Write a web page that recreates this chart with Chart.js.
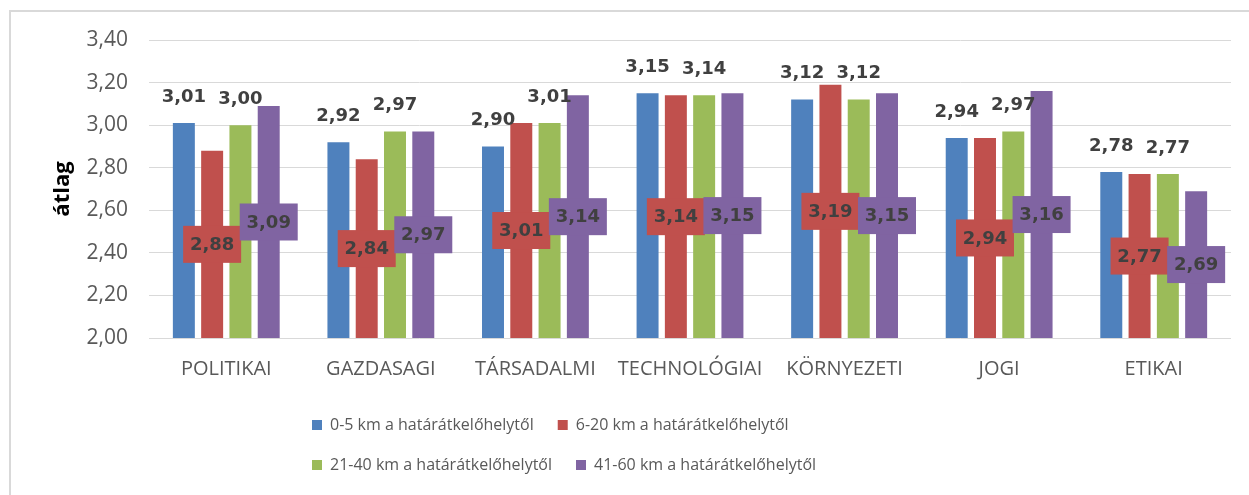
<!DOCTYPE html>
<html lang="hu">
<head>
    <meta charset="UTF-8">
    <title>átlag</title>
    <script src="https://cdn.jsdelivr.net/npm/chart.js@4.4.1/dist/chart.umd.min.js"></script>
</head>
<style>
    body {
        margin: 0;
        background: #fff;
        font-family: "Open Sans", sans-serif;
    }

    .frame {
        position: absolute;
        left: 9px;
        top: 10px;
        width: 1270px;
        height: 520px;
        border-left: 2px solid #d9d9d9;
        border-top: 2px solid #d9d9d9;
    }

    .wrap {
        position: absolute;
        left: 0;
        top: 0;
        width: 1249px;
        height: 495px;
    }
</style>
<body>
    <div class="frame"></div>
    <div class="wrap">
        <canvas id="myChart"></canvas>
    </div>

    <script>
        const categories = ['POLITIKAI', 'GAZDASAGI', 'TÁRSADALMI', 'TECHNOLÓGIAI', 'KÖRNYEZETI', 'JOGI', 'ETIKAI']
        const seriesNames = [
            '0-5 km a határátkelőhelytől',
            '6-20 km a határátkelőhelytől',
            '21-40 km a határátkelőhelytől',
            '41-60 km a határátkelőhelytől'
        ]
        const km0_5   = [3.01, 2.92, 2.90, 3.15, 3.12, 2.94, 2.78]
        const km6_20  = [2.88, 2.84, 3.01, 3.14, 3.19, 2.94, 2.77]
        const km21_40 = [3.00, 2.97, 3.01, 3.14, 3.12, 2.97, 2.77]
        const km41_60 = [3.09, 2.97, 3.14, 3.15, 3.15, 3.16, 2.69]
        const yMin = 2.0
        const yMax = 3.4
        const yStep = 0.2
        const yTitle = 'átlag'

        const colors = ['#4f81bd', '#c0504d', '#9bbb59', '#8064a2']
        const font = '"Open Sans", sans-serif'
        const labelFont = 'bold 18px "DejaVu Sans", sans-serif'

        const fmt = (v) => v.toFixed(2).replace('.', ',')

        // blue & green values sit above the bar, red & purple in a box at the bar's middle
        const barLabels = {
            id: 'barLabels',
            afterDatasetsDraw(chart) {
                const ctx = chart.ctx
                const floor = chart.scales.y.getPixelForValue(yMin)
                ctx.save()
                ctx.font = labelFont
                ctx.textAlign = 'center'
                ctx.textBaseline = 'middle'
                chart.data.datasets.forEach((ds, i) => {
                    const meta = chart.getDatasetMeta(i)
                    meta.data.forEach((bar, j) => {
                        const text = fmt(ds.data[j])
                        if (ds.labelBox) {
                            const cy = (bar.y + floor) / 2
                            ctx.fillStyle = ds.backgroundColor
                            ctx.fillRect(bar.x - 29, cy - 18.5, 58, 37)
                            ctx.fillStyle = '#404040'
                            ctx.fillText(text, bar.x, cy + 1)
                        } else {
                            ctx.fillStyle = '#404040'
                            ctx.fillText(text, bar.x, bar.y - 26)
                        }
                    })
                })
                ctx.restore()
            }
        }

        // legend: two items per row, rows left aligned, block left of the centre
        const legendBox = { left: 288, width: 620 }
        const legendFit = {
            id: 'legendFit',
            beforeLayout(chart) {
                const lg = chart.legend
                if (lg && !lg._narrow) {
                    const orig = lg.update.bind(lg)
                    lg.update = (w, h, m) => orig(Math.min(w, legendBox.width), h, m)
                    lg._narrow = true
                }
            },
            afterLayout(chart) {
                const lg = chart.legend
                lg.left = legendBox.left
                lg.right = legendBox.left + legendBox.width
                lg.width = legendBox.width
            }
        }

        const chart = new Chart('myChart', {
            type: 'bar',
            data: {
                labels: categories,
                datasets: [km0_5, km6_20, km21_40, km41_60].map((d, i) => ({
                    label: seriesNames[i],
                    data: d,
                    backgroundColor: colors[i],
                    borderWidth: 0,
                    labelBox: i % 2 === 1,
                    categoryPercentage: 0.732,
                    barPercentage: 0.777
                }))
            },
            plugins: [barLabels, legendFit],
            options: {
                responsive: true,
                maintainAspectRatio: false,
                animation: false,
                layout: {
                    padding: { left: 46, top: 40, right: 18, bottom: 12 }
                },
                plugins: {
                    tooltip: { enabled: false },
                    legend: {
                        position: 'bottom',
                        align: 'start',
                        labels: {
                            boxWidth: 10,
                            boxHeight: 10,
                            padding: 24,
                            color: '#595959',
                            font: { family: font, size: 16 }
                        }
                    }
                },
                scales: {
                    x: {
                        grid: { display: false },
                        border: { display: false },
                        ticks: {
                            padding: 11,
                            color: '#595959',
                            font: { family: font, size: 20 }
                        },
                        afterFit: (s) => { s.height = 55 }
                    },
                    y: {
                        min: yMin,
                        max: yMax,
                        border: { display: false },
                        grid: { color: '#d9d9d9', drawTicks: false },
                        ticks: {
                            stepSize: yStep,
                            padding: 21,
                            color: '#595959',
                            font: { family: font, size: 21 },
                            callback: (v) => fmt(v)
                        },
                        title: {
                            display: true,
                            text: yTitle,
                            color: '#000',
                            font: { family: font, size: 22, weight: 'bold' }
                        },
                        afterFit: (s) => { s.width = 103 }
                    }
                }
            }
        })
    </script>
</body>
</html>
